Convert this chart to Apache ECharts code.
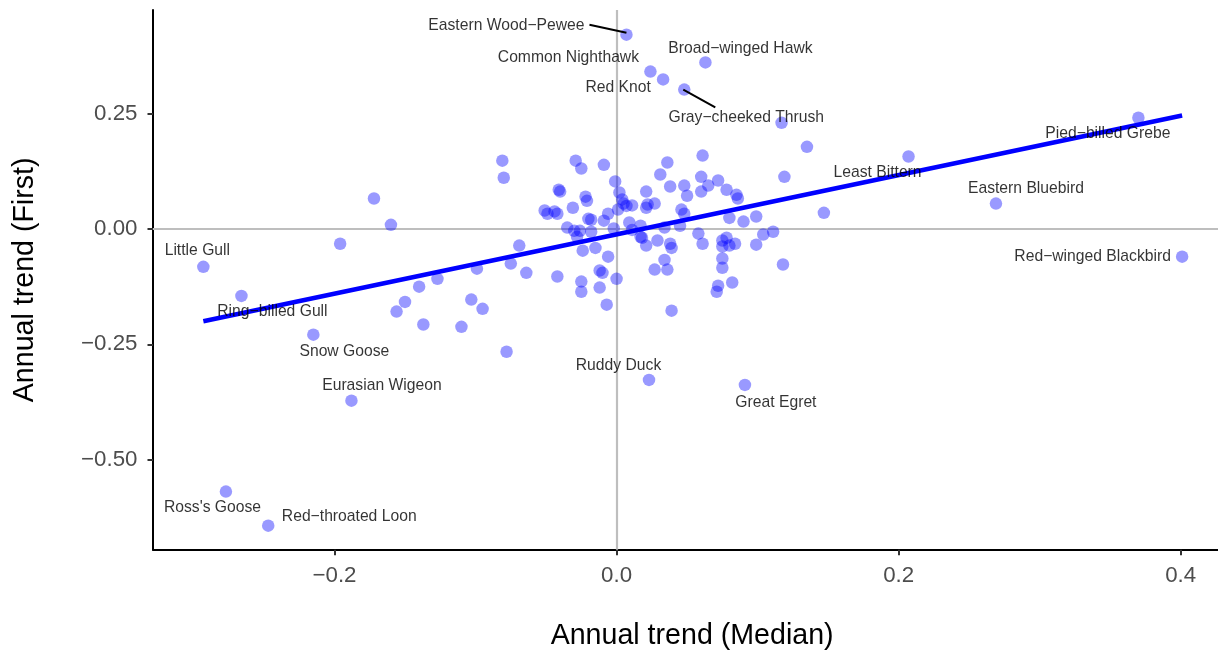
<!DOCTYPE html>
<html>
<head>
<meta charset="utf-8">
<script src="https://cdn.jsdelivr.net/npm/echarts@6/dist/echarts.min.js"></script>
<style>
html,body{margin:0;padding:0;background:#ffffff;}
#chart{width:1218px;height:651px;}
</style>
</head>
<body>
<div id="chart"></div>
<script>
// ---------- data ----------
const xTicks = [-0.2, 0, 0.2, 0.4];
const xTickLabels = ['\u22120.2', '0.0', '0.2', '0.4'];
const yTicks = [-0.5, -0.25, 0, 0.25];
const yTickLabels = ['\u22120.50', '\u22120.25', '0.00', '0.25'];
const xRange = [-0.3287, 0.4358];
const yRange = [-0.695, 0.4745];

// [median trend, first trend] for species without a label
const speciesPoints = [
  [0.117,0.230],[0.135,0.178],[0.119,0.113],[0.147,0.035],[0.118,-0.077],[0.099,0.027],
  [0.090,0.016],[0.080,0.024],[0.085,0.074],[0.086,0.066],[0.078,0.085],[0.072,0.105],
  [0.111,-0.006],[0.104,-0.012],[0.099,-0.034],[0.075,-0.064],[0.075,-0.084],[0.082,-0.116],
  [0.072,-0.123],[0.071,-0.136],[0.061,0.159],[0.036,0.144],[0.031,0.118],[0.060,0.113],
  [0.065,0.094],[0.048,0.094],[0.038,0.092],[0.021,0.081],[0.060,0.081],[0.050,0.072],
  [0.027,0.055],[0.022,0.053],[0.021,0.046],[0.046,0.042],[0.048,0.033],[0.017,0.007],
  [0.034,0.003],[0.045,0.007],[0.058,-0.010],[0.017,-0.017],[0.018,-0.019],[0.029,-0.025],
  [0.021,-0.036],[0.038,-0.032],[0.039,-0.041],[0.061,-0.032],[0.034,-0.067],[0.027,-0.088],
  [0.036,-0.088],[0.039,-0.177],[0.075,-0.025],[0.078,-0.019],[0.075,-0.038],[0.080,-0.036],
  [0.084,-0.032],
  [-0.081,0.148],[-0.080,0.111],[-0.029,0.148],[-0.025,0.131],[-0.009,0.139],[-0.001,0.103],
  [-0.041,0.085],[-0.040,0.081],[-0.022,0.070],[-0.021,0.061],[0.002,0.079],[0.004,0.064],
  [0.005,0.055],[0.011,0.051],[0.007,0.050],[-0.051,0.040],[-0.049,0.033],[-0.044,0.038],
  [-0.042,0.033],[-0.031,0.046],[-0.020,0.022],[-0.018,0.020],[-0.009,0.018],[-0.006,0.033],
  [0.001,0.042],[0.009,0.014],[-0.035,0.003],[-0.030,-0.004],[-0.026,-0.004],[-0.028,-0.017],
  [-0.018,-0.006],[-0.002,0.001],[0.011,-0.002],[-0.015,-0.041],[-0.024,-0.047],[-0.006,-0.060],
  [-0.069,-0.036],[-0.075,-0.075],[-0.064,-0.095],[-0.042,-0.103],[-0.012,-0.090],[-0.010,-0.095],
  [0.000,-0.108],[-0.025,-0.114],[-0.025,-0.136],[-0.012,-0.127],[-0.007,-0.164],[-0.095,-0.173],
  [-0.099,-0.086],
  [-0.172,0.066],[-0.160,0.009],[-0.196,-0.032],[-0.156,-0.179],[-0.150,-0.158],[-0.140,-0.125],
  [-0.127,-0.108],[-0.137,-0.207],[-0.110,-0.212],[-0.103,-0.153],[-0.078,-0.266]
];

// labelled species
const labelledNames = [
  'Eastern Wood\u2212Pewee','Common Nighthawk','Red Knot','Gray\u2212cheeked Thrush','Broad\u2212winged Hawk',
  'Pied\u2212billed Grebe','Least Bittern','Eastern Bluebird','Red\u2212winged Blackbird','Little Gull',
  'Ring\u2212billed Gull','Snow Goose','Eurasian Wigeon','Ruddy Duck','Great Egret',"Ross's Goose",
  'Red\u2212throated Loon'
];
const labelledPoints = [
  [0.007,0.421],[0.024,0.341],[0.033,0.324],[0.048,0.302],[0.063,0.361],
  [0.370,0.241],[0.207,0.157],[0.269,0.055],[0.401,-0.060],[-0.293,-0.082],
  [-0.266,-0.145],[-0.215,-0.229],[-0.188,-0.372],[0.023,-0.327],[0.091,-0.338],[-0.277,-0.569],
  [-0.247,-0.643]
];

// fitted linear trend (end points over data range)
const fitLine = [[-0.293,-0.200],[0.401,0.246]];

// ---------- presentation ----------
const FONT = 'Liberation Sans, Arial, Helvetica, sans-serif';
// label text-centre offsets (px) from each labelled point, in labelledNames order
const labelOffsets = [
  [-120,-9],[-82,-14],[-45,8],[62,28],[35,-14],
  [-30.5,16],[-31,16],[30,-15],[-89.5,0],[-6,-16],
  [31,16],[31,17],[30.5,-14.5],[-30.5,-14],[31,18],[-13.4,16],
  [81,-9.3]
];
// leader segments: index into labelled species, start/end offsets (px) from the point
const leaderIdx = [0, 3];
const leaderOffsets = [
  [[0,-2],[-37,-10]],
  [[-1,0],[31,17.7]]
];

function lookup(ticks, labels, v) {
  for (let i = 0; i < ticks.length; i++) {
    if (Math.abs(ticks[i] - v) < 1e-9) return labels[i];
  }
  return '';
}

const pointStyle = { color: 'rgba(0,0,255,0.5)', borderWidth: 0 };

const labelData = labelledPoints.map((p, i) => ({
  name: labelledNames[i],
  value: p,
  label: { offset: labelOffsets[i] }
}));

const leaderData = leaderIdx.map(i => labelledPoints[i]);

const chart = echarts.init(document.getElementById('chart'), null, { renderer: 'canvas' });
chart.setOption({
  animation: false,
  backgroundColor: '#ffffff',
  grid: { left: 153, top: 10, width: 1078.2, height: 539.7, containLabel: false, outerBoundsMode: 'none' },
  xAxis: {
    type: 'value', min: xRange[0], max: xRange[1],
    splitLine: { show: false },
    axisLine: { onZero: false, lineStyle: { color: '#000', width: 2 } },
    axisTick: { show: true, customValues: xTicks, length: 5.5, lineStyle: { color: '#333', width: 2 } },
    axisLabel: {
      customValues: xTicks, formatter: v => lookup(xTicks, xTickLabels, v),
      color: '#4D4D4D', fontSize: 22.3, fontFamily: FONT, margin: 15.5
    },
    name: 'Annual trend (Median)', nameLocation: 'middle', nameGap: 71.5,
    nameTextStyle: { color: '#000', fontSize: 28.6, fontFamily: FONT }
  },
  yAxis: {
    type: 'value', min: yRange[0], max: yRange[1],
    splitLine: { show: false },
    axisLine: { onZero: false, lineStyle: { color: '#000', width: 2 } },
    axisTick: { show: true, customValues: yTicks, length: 5.5, lineStyle: { color: '#333', width: 2 } },
    axisLabel: {
      customValues: yTicks, formatter: v => lookup(yTicks, yTickLabels, v),
      color: '#4D4D4D', fontSize: 22.3, fontFamily: FONT, margin: 15.5
    },
    name: 'Annual trend (First)', nameLocation: 'middle', nameGap: 113,
    nameTextStyle: { color: '#000', fontSize: 28.6, fontFamily: FONT }
  },
  series: [
    {
      type: 'scatter', z: 2, silent: true,
      data: speciesPoints, symbol: 'circle', symbolSize: 12.5, itemStyle: pointStyle,
      markLine: {
        silent: true, z: 1, symbol: ['none', 'none'], label: { show: false },
        lineStyle: { color: '#BEBEBE', width: 2.2, type: 'solid' },
        data: [{ xAxis: 0 }, { yAxis: 0 }]
      }
    },
    {
      type: 'scatter', z: 2, silent: true,
      data: labelledPoints, symbol: 'circle', symbolSize: 12.5, itemStyle: pointStyle
    },
    {
      type: 'line', z: 3, silent: true, data: fitLine, showSymbol: false, symbol: 'none',
      lineStyle: { color: '#0000FF', width: 4.5 }
    },
    {
      type: 'custom', z: 3, silent: true, data: leaderData,
      renderItem: function (params, api) {
        const p = api.coord([api.value(0), api.value(1)]);
        const o = leaderOffsets[params.dataIndex];
        return {
          type: 'line',
          shape: { x1: p[0] + o[0][0], y1: p[1] + o[0][1], x2: p[0] + o[1][0], y2: p[1] + o[1][1] },
          style: { stroke: '#000', lineWidth: 2 }
        };
      }
    },
    {
      type: 'scatter', z: 4, silent: true,
      data: labelData, symbol: 'circle', symbolSize: 6,
      itemStyle: { color: 'rgba(0,0,0,0)' },
      label: {
        show: true, position: 'inside', formatter: '{b}',
        color: '#000', fontSize: 15.7, fontFamily: FONT, align: 'center', verticalAlign: 'middle'
      }
    }
  ]
});
</script>
</body>
</html>
